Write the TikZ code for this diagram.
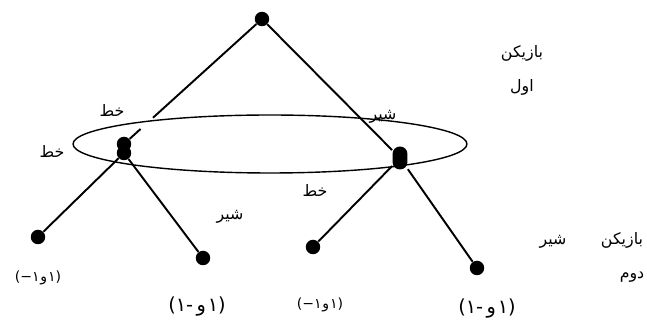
\documentclass[tikz,border=0pt]{standalone}
\usepackage{fontspec}
\usetikzlibrary{calc}
\TeXXeTstate=1
\newfontfamily\farsi[Script=Arabic]{DejaVu Sans}
\newfontfamily\farsinum{DejaVu Sans}
\definecolor{inkK}{HTML}{000000}

\newcommand\fa[1]{\beginR #1\endR}
% payoffs, each glyph in its own box so they stay in the printed order
\newcommand\gl[1]{\hbox{#1}}
\newcommand\payS{\gl{(}\gl{−}\gl{۱}\kern0.5pt\gl{و}\kern0.5pt\gl{۱}\gl{)}}
\newcommand\payB{\gl{(}\gl{۱}\gl{-}\kern2pt\gl{و}\kern1pt\gl{۱}\gl{)}}

\tikzset{
  dot/.style={circle, fill=inkK, inner sep=0pt, minimum size=0.29cm},
  edge/.style={draw=inkK, line width=1.1pt},
  lbl/.style={font=\farsi\fontsize{9}{10}\selectfont, text=inkK, inner sep=0pt},
  paysmall/.style={font=\farsinum\fontsize{8}{9}\selectfont, text=inkK, inner sep=0pt},
  paybig/.style={font=\farsinum\fontsize{11}{12}\selectfont, text=inkK, inner sep=0pt},
}

\begin{document}
\begin{tikzpicture}[x=0.02cm, y=-0.02cm]
  \useasboundingbox (0,0) rectangle (647,327);

  % information set of the second player
  \draw[inkK, line width=0.8pt] (270,144) ellipse [x radius=3.94cm, y radius=0.58cm];

  \node[dot] (root) at (262,19) {};
  \node[dot] (la) at (124,144) {};
  \node[dot] (lb) at (124,153) {};
  \node[fill=inkK, rounded corners=0.15cm, inner sep=0pt,
        minimum width=0.3cm, minimum height=0.46cm] (rt) at (400,158) {};
  \node[dot] (ll) at (38,237) {};
  \node[dot] (lr) at (203,258) {};
  \node[dot] (rl) at (313,247) {};
  \node[dot] (rr) at (477,268) {};

  \draw[edge] (root) -- ($(root)!0.79!(la)$);
  \draw[edge] ($(root)!0.88!(la)$) -- (la);
  \draw[edge] (root) -- (rt);
  \draw[edge] (lb) -- (ll);
  \draw[edge] (lb) -- (lr);
  \draw[edge] (rt) -- (rl);
  \draw[edge] (rt) -- (rr);

  % moves
  \node[lbl] (m1) at (112,110) {\fa{خط}};
  \node[lbl] (m2) at (383,117) {\fa{شیر}};
  \node[lbl] (m3) at (52,151) {\fa{خط}};
  \node[lbl] (m4) at (230,217) {\fa{شیر}};
  \node[lbl] (m5) at (315,190) {\fa{خط}};
  \node[lbl] (m6) at (553,242) {\fa{شیر}};

  % players
  \node[lbl] (p1a) at (522,53) {\fa{بازیکن}};
  \node[lbl] (p1b) at (522,87) {\fa{اول}};
  \node[lbl] (p2a) at (622,240) {\fa{بازیکن}};
  \node[lbl] (p2b) at (632,277) {\fa{دوم}};

  % payoffs
  \node[paysmall] (u1) at (38,278) {\payS};
  \node[paybig] (u2) at (197,307) {\payB};
  \node[paysmall] (u3) at (320,305) {\payS};
  \node[paybig] (u4) at (487,309) {\payB};
\end{tikzpicture}
\end{document}
